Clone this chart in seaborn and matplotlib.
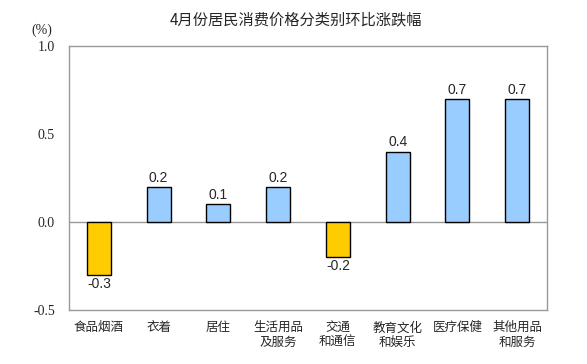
import pandas as pd
import seaborn as sns
import matplotlib.pyplot as plt

categories = ['食品烟酒', '衣着', '居住', '生活用品\n及服务', '交通\n和通信',
              '教育文化\n和娱乐', '医疗保健', '其他用品\n和服务']
values = [-0.3, 0.2, 0.1, 0.2, -0.2, 0.4, 0.7, 0.7]
yticks = [-0.5, 0.0, 0.5, 1.0]

sns.set_style('white')
plt.rcParams['font.family'] = ['Noto Sans CJK SC', 'DejaVu Sans']

data = pd.DataFrame({'cat': categories, 'val': values})
data['sign'] = ['neg' if v < 0 else 'pos' for v in values]

fig = plt.figure(figsize=(5.87, 3.64), dpi=100)
ax = fig.add_axes([0.1175, 0.148, 0.8145, 0.726])
sns.barplot(data=data, x='cat', y='val', hue='sign',
            palette={'pos': '#99CCFF', 'neg': '#FFCC00'}, saturation=1,
            width=0.4, edgecolor='black', linewidth=1, legend=False,
            dodge=False, ax=ax)

for i, v in enumerate(values):
    off = 0.012 if v >= 0 else -0.012
    ax.text(i, v + off, f'{v:.1f}', ha='center',
            va='bottom' if v >= 0 else 'top', fontsize=10,
            family=['Liberation Sans', 'DejaVu Sans'])

ax.set_ylim(-0.5, 1.0)
ax.set_xlim(-0.5, len(categories) - 0.5)
ax.set_yticks(yticks)
ax.set_yticklabels([f'{t:.1f}' for t in yticks], family=['Liberation Serif'], fontsize=10)
ax.tick_params(axis='x', labelsize=9, pad=8, length=0)
ax.tick_params(axis='y', pad=10, length=0)
ax.axhline(0, color='#999999', linewidth=1, zorder=0)
for s in ax.spines.values():
    s.set_color('#999999')
    s.set_linewidth(1)
ax.set_xlabel('')
ax.set_ylabel('')
fig.text(0.072, 0.918, '(%)', fontsize=10, family=['Liberation Serif'],
         ha='center', va='center')
fig.text(0.505, 0.945, '4月份居民消费价格分类别环比涨跌幅', fontsize=11,
         ha='center', va='center')

fig.savefig('out.png', dpi=100)
